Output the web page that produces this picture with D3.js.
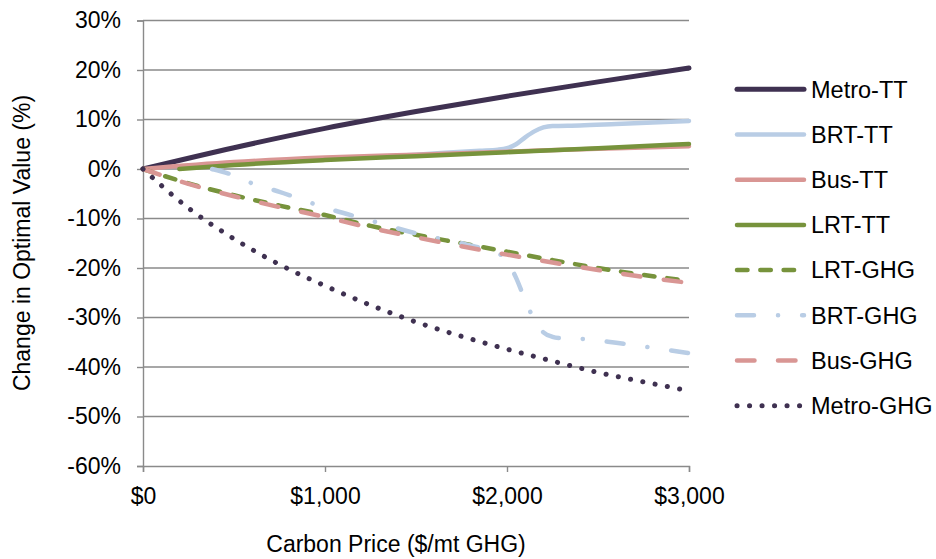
<!DOCTYPE html>
<html>
<head>
<meta charset="utf-8">
<script src="https://cdn.jsdelivr.net/npm/d3@7"></script>
<style>
  html, body { margin: 0; padding: 0; background: #fff; }
  svg { display: block; font-family: "Liberation Sans", Arial, sans-serif; }
</style>
</head>
<body>
<svg id="chart" width="936" height="559"></svg>
<script>
// ---- Data ----
const priceStd = [0, 250, 500, 750, 1000, 1250, 1500, 1750, 2000, 2250, 2500, 2750, 3000];
const priceHalf = [0, 500, 1000, 1500, 2000, 2500, 3000];
const priceLrtTT = [200, 500, 1000, 1500, 2000, 2500, 3000];
const priceBrtTT = [380, 500, 1000, 1500, 1850, 1950, 2000, 2050, 2100, 2150, 2200, 2250, 2400, 2600, 2800, 3000];
const priceBrtGHG = [380, 500, 600, 750, 1000, 1250, 1500, 1750, 1850, 1950, 2000, 2050, 2100, 2150, 2200, 2250, 2300, 2400, 2600, 2800, 3000];

const metroTT  = [0, 4.3, 8.2, 11.6, 14.7, 17.6, 20.4];
const busTT    = [0, 1.4, 2.3, 2.9, 3.5, 4.1, 4.6];
const lrtTT    = [0, 0.8, 1.8, 2.6, 3.4, 4.2, 5.05];
const brtTT    = [0, 1.0, 1.9, 2.9, 3.7, 3.9, 4.2, 5.0, 6.4, 7.6, 8.4, 8.7, 8.8, 9.1, 9.4, 9.7];
const lrtGHG   = [0, -2.9, -5.3, -7.4, -9.3, -11.5, -13.3, -15.0, -16.7, -18.4, -20.0, -21.4, -22.6];
const busGHG   = [0, -3.0, -5.5, -7.7, -9.7, -11.9, -13.8, -15.6, -17.3, -18.9, -20.4, -21.8, -23.0];
const brtGHG   = [0, -1.3, -2.9, -4.6, -7.8, -10.4, -13.0, -15.0, -15.9, -17.0, -18.5, -22.0, -26.5, -30.5, -33.0, -33.9, -34.2, -34.3, -35.1, -36.1, -37.2];
const metroGHG = [0, -7.9, -14.1, -19.3, -23.6, -27.5, -30.9, -33.8, -36.4, -38.8, -41.1, -43.0, -44.8];

const yTicks = [30, 20, 10, 0, -10, -20, -30, -40, -50, -60];
const xTicks = [0, 1000, 2000, 3000];

const seriesNames = ["Metro-TT", "BRT-TT", "Bus-TT", "LRT-TT", "LRT-GHG", "BRT-GHG", "Bus-GHG", "Metro-GHG"];

// ---- Styles ----
const styles = {
  "Metro-TT":  { color: "#3f3151", width: 5,   dash: null },
  "BRT-TT":    { color: "#b9cde5", width: 4.5, dash: null },
  "Bus-TT":    { color: "#d99694", width: 4.5, dash: null },
  "LRT-TT":    { color: "#77933c", width: 4.5, dash: null },
  "LRT-GHG":   { color: "#77933c", width: 4.5, dash: "10.5,12.8" },
  "BRT-GHG":   { color: "#b9cde5", width: 4.5, dash: "17,24,0.1,24" },
  "Bus-GHG":   { color: "#d99694", width: 4.5, dash: "17.5,23.5" },
  "Metro-GHG": { color: "#3f3151", width: 5,   dash: "0.1,12.4" }
};

const seriesData = {
  "Metro-TT":  [priceHalf, metroTT],
  "BRT-TT":    [priceBrtTT, brtTT],
  "Bus-TT":    [priceHalf, busTT],
  "LRT-TT":    [priceLrtTT, lrtTT],
  "LRT-GHG":   [priceStd, lrtGHG],
  "BRT-GHG":   [priceBrtGHG, brtGHG],
  "Bus-GHG":   [priceStd, busGHG],
  "Metro-GHG": [priceStd, metroGHG]
};

// ---- Layout ----
const svg = d3.select("#chart");
const plot = { left: 143, right: 689, top: 20.5, bottom: 466 };
const FONT = "Liberation Sans, Arial, sans-serif";

const x = d3.scaleLinear().domain([0, 3000]).range([plot.left, plot.right]);
const y = d3.scaleLinear().domain([-60, 30]).range([plot.bottom, plot.top]);

const gridColor = "#8a8a8a";

// gridlines
svg.append("g")
  .selectAll("line")
  .data(yTicks.filter(d => d !== -60))
  .join("line")
  .attr("x1", plot.left).attr("x2", plot.right)
  .attr("y1", d => y(d)).attr("y2", d => y(d))
  .attr("stroke", gridColor).attr("stroke-width", 1.4);

// y axis
const yAxis = d3.axisLeft(y).tickValues(yTicks).tickSize(6).tickPadding(16)
  .tickFormat(d => d + "%");
const gy = svg.append("g").attr("transform", `translate(${plot.left},0)`).call(yAxis);
gy.select(".domain").attr("stroke", gridColor).attr("stroke-width", 1.4);
gy.selectAll(".tick line").attr("stroke", gridColor).attr("stroke-width", 1.4);
gy.selectAll(".tick text").attr("font-size", 23).attr("fill", "#000").attr("font-family", FONT);

// x axis
const xAxis = d3.axisBottom(x).tickValues(xTicks).tickSize(6).tickPadding(16)
  .tickFormat(d => "$" + d3.format(",")(d));
const gx = svg.append("g").attr("transform", `translate(0,${plot.bottom})`).call(xAxis);
gx.select(".domain").attr("stroke", gridColor).attr("stroke-width", 1.4);
gx.selectAll(".tick line").attr("stroke", gridColor).attr("stroke-width", 1.4);
gx.selectAll(".tick text").attr("font-size", 23).attr("fill", "#000").attr("font-family", FONT);

// axis titles
svg.append("text")
  .attr("x", 396).attr("y", 552)
  .attr("text-anchor", "middle").attr("font-size", 23).attr("fill", "#000")
  .attr("font-family", FONT)
  .text("Carbon Price ($/mt GHG)");
svg.append("text")
  .attr("transform", "translate(30,243) rotate(-90)")
  .attr("text-anchor", "middle").attr("font-size", 23).attr("fill", "#000")
  .attr("font-family", FONT)
  .text("Change in Optimal Value (%)");

// lines
const line = d3.line().x(d => x(d[0])).y(d => y(d[1])).curve(d3.curveMonotoneX);
const gLines = svg.append("g");
seriesNames.forEach(name => {
  const [xs, ys] = seriesData[name];
  const pts = xs.map((v, i) => [v, ys[i]]);
  const s = styles[name];
  gLines.append("path")
    .datum(pts)
    .attr("d", line)
    .attr("fill", "none")
    .attr("stroke", s.color)
    .attr("stroke-width", s.width)
    .attr("stroke-linecap", "round")
    .attr("stroke-linejoin", "round")
    .attr("stroke-dasharray", s.dash);
});

// legend
const legendTop = 89.3, legendStep = 45.2;
const gLeg = svg.append("g");
seriesNames.forEach((name, i) => {
  const s = styles[name];
  const ly = legendTop + i * legendStep;
  gLeg.append("line")
    .attr("x1", 737).attr("x2", 804)
    .attr("y1", ly).attr("y2", ly)
    .attr("stroke", s.color)
    .attr("stroke-width", s.width)
    .attr("stroke-linecap", "round")
    .attr("stroke-dasharray", s.dash);
  gLeg.append("text")
    .attr("x", 811).attr("y", ly + 8.3)
    .attr("font-size", 23.5).attr("fill", "#000")
    .attr("font-family", FONT)
    .text(name);
});
</script>
</body>
</html>
